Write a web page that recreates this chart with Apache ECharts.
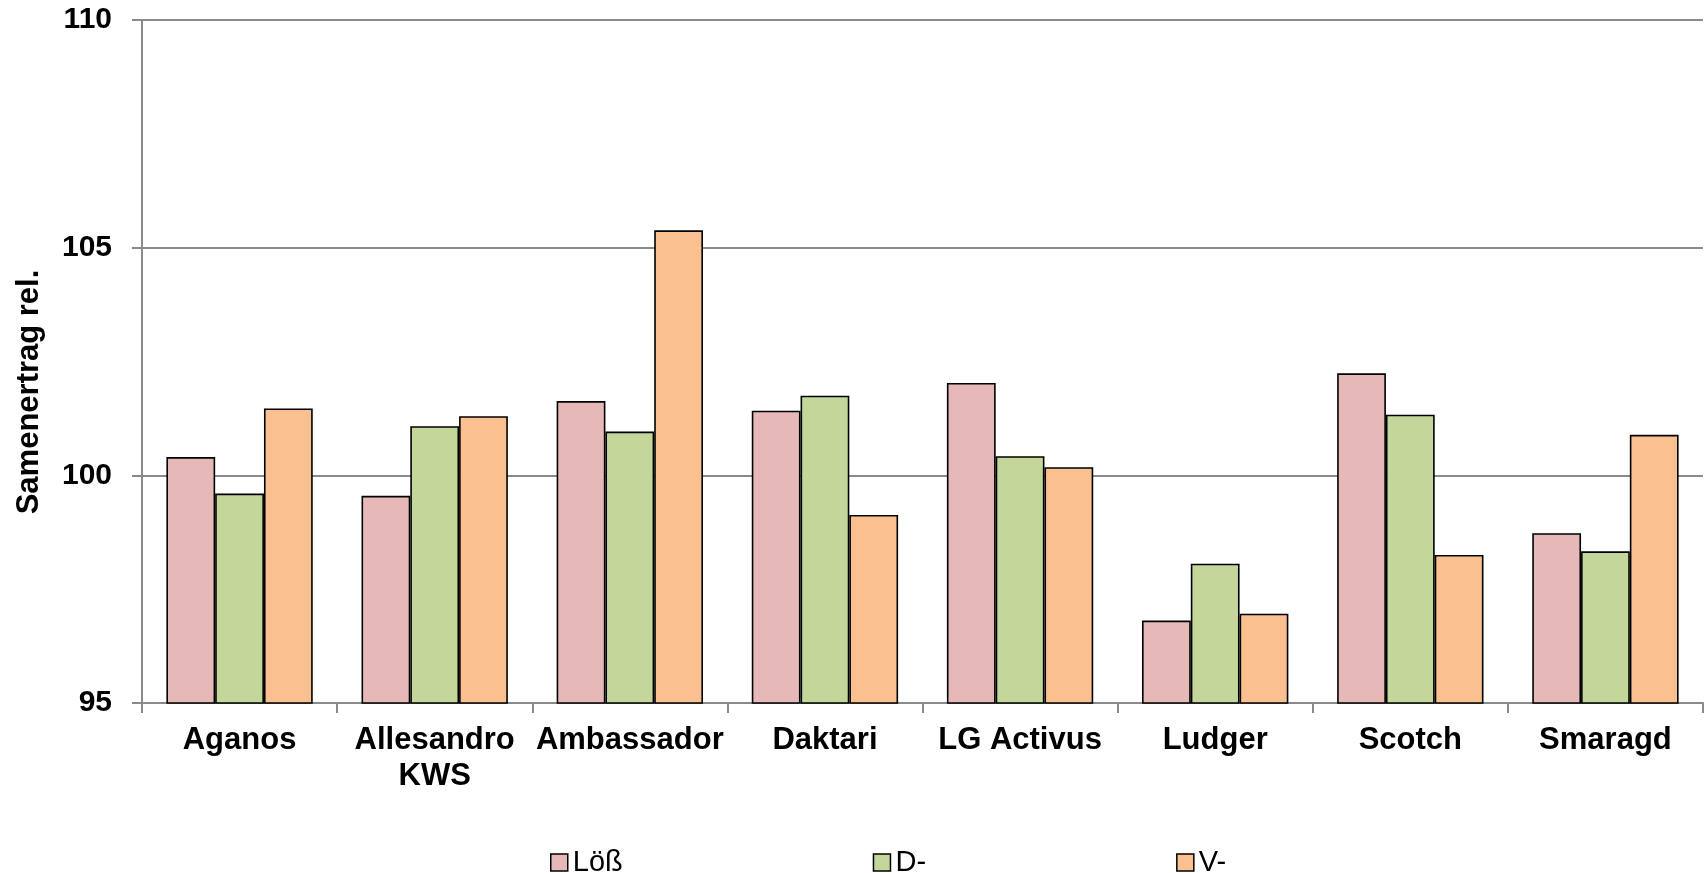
<!DOCTYPE html>
<html>
<head>
<meta charset="utf-8">
<script src="https://cdn.jsdelivr.net/npm/echarts@6/dist/echarts.min.js"></script>
<style>
html,body{margin:0;padding:0;background:#fff;}
#chart{width:1708px;height:873px;}
</style>
</head>
<body>
<div id="chart"></div>
<script>
const categories = ["Aganos", "Allesandro\nKWS", "Ambassador", "Daktari", "LG Activus", "Ludger", "Scotch", "Smaragd"];
const seriesNames = ["Löß", "D-", "V-"];
const loessValues = [100.40, 99.55, 101.63, 101.42, 102.03, 96.81, 102.24, 98.73];
const dValues     = [99.60, 101.08, 100.96, 101.75, 100.42, 98.06, 101.33, 98.33];
const vValues     = [101.47, 101.30, 105.38, 99.13, 100.18, 96.96, 98.25, 100.89];
const yTicks = [95, 100, 105, 110];
const axisTitle = "Samenertrag rel.";

const colors = ["#E6B9B8", "#C4D79B", "#FAC090"];
const FONT = "'Liberation Sans', Arial, sans-serif";

const chart = echarts.init(document.getElementById('chart'), null, {renderer: 'canvas'});
const allValues = [loessValues, dValues, vValues];

chart.setOption({
  animation: false,
  backgroundColor: '#ffffff',
  grid: {left: 142, right: 5, top: 20, bottom: 170, containLabel: false},
  legend: {
    left: 545,
    top: 843,
    itemWidth: 17,
    itemHeight: 17,
    itemGap: 250,
    icon: 'rect',
    textStyle: {fontFamily: FONT, fontSize: 29, color: '#000'},
    data: seriesNames.map((n, i) => ({name: n, itemStyle: {color: colors[i], borderColor: '#000', borderWidth: 1.5}}))
  },
  graphic: [{
    type: 'text',
    x: 29,
    y: 392,
    rotation: Math.PI / 2,
    style: {
      text: axisTitle,
      font: "bold 31px " + FONT,
      fill: '#000',
      align: 'center',
      verticalAlign: 'middle'
    }
  }],
  xAxis: {
    type: 'category',
    data: categories,
    boundaryGap: true,
    axisLine: {show: true, lineStyle: {color: '#8a8a8a', width: 2}},
    axisTick: {show: true, length: 10, alignWithLabel: false, lineStyle: {color: '#8a8a8a', width: 2}},
    axisLabel: {interval: 0, margin: 19, fontFamily: FONT, fontWeight: 'bold', fontSize: 31, lineHeight: 36, color: '#000'},
    splitLine: {show: false}
  },
  yAxis: {
    type: 'value',
    min: yTicks[0],
    max: yTicks[yTicks.length - 1],
    interval: 5,
    axisLine: {show: true, lineStyle: {color: '#8a8a8a', width: 2}},
    axisTick: {show: true, length: 10, lineStyle: {color: '#8a8a8a', width: 2}},
    axisLabel: {margin: 30, fontFamily: FONT, fontWeight: 'bold', fontSize: 30, color: '#000'},
    splitLine: {show: true, lineStyle: {color: '#8a8a8a', width: 2}}
  },
  series: seriesNames.map((n, i) => ({
    name: n,
    type: 'bar',
    data: allValues[i],
    barGap: '0%',
    barCategoryGap: '25%',
    itemStyle: {color: colors[i], borderColor: '#000', borderWidth: 1.6},
    emphasis: {disabled: true}
  }))
});
</script>
</body>
</html>
